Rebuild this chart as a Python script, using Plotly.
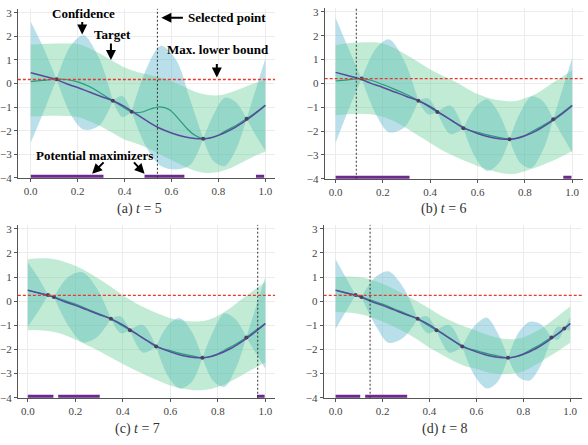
import plotly.graph_objects as go

# ---------------- data ----------------
grid_x = [0.0, 0.05, 0.1, 0.15, 0.2, 0.25, 0.3, 0.35, 0.4, 0.45, 0.5,
          0.55, 0.6, 0.65, 0.7, 0.75, 0.8, 0.85, 0.9, 0.95, 1.0]

target_y = [0.46, 0.33, 0.2, 0.0, -0.17, -0.36, -0.55, -0.73, -0.98, -1.3, -1.62,
            -1.9, -2.1, -2.25, -2.33, -2.33, -2.2, -1.98, -1.68, -1.33, -0.93]

# panel (a) t=5
a_obs_x = [0.11, 0.35, 0.43, 0.735, 0.92]
a_obs_y = [0.18, -0.73, -1.2, -2.34, -1.5]
a_mean_x = [0, 0.05, 0.11, 0.15, 0.2, 0.25, 0.3, 0.35, 0.39, 0.43, 0.47, 0.51, 0.55,
            0.59, 0.63, 0.67, 0.7, 0.735, 0.78, 0.83, 0.88, 0.92, 0.96, 1.0]
a_mean_y = [0.08, 0.13, 0.18, 0.17, 0.07, -0.13, -0.42, -0.73, -0.98, -1.2, -1.22, -1.08,
            -0.99, -1.1, -1.5, -1.95, -2.2, -2.34, -2.28, -2.02, -1.75, -1.5, -1.22, -0.92]
a_gp_up = [1.65, 1.68, 1.7, 1.7, 1.68, 1.5, 1.24, 0.95, 0.68, 0.5, 0.38,
           0.25, 0.1, -0.12, -0.35, -0.48, -0.5, -0.38, -0.2, 0.0, 0.15]
a_gp_lo = [-1.4, -1.38, -1.37, -1.38, -1.42, -1.6, -1.82, -2.1, -2.38, -2.55, -2.75,
           -3.0, -3.25, -3.5, -3.7, -3.8, -3.75, -3.6, -3.35, -3.1, -2.9]
a_lip_x = [0, 0.055, 0.11, 0.17, 0.225, 0.29, 0.35, 0.39, 0.43, 0.49, 0.555, 0.62, 0.68,
           0.735, 0.78, 0.8275, 0.875, 0.92, 0.96, 1.0]
a_lip_up = [2.62, 1.5, 0.18, 1.6, 2.05, 1.1, -0.73, -0.52, -1.2, 0.55, 1.6, 1.0, -0.7,
            -2.34, -1.3, -0.6, -0.8, -1.5, -0.22, 1.05]
a_lip_lo = [-2.51, -1.2, 0.18, -1.3, -1.95, -1.8, -0.73, -1.42, -1.2, -2.65, -3.5, -3.65, -3.45,
            -2.34, -3.3, -3.5, -2.8, -1.5, -2.22, -2.85]
a_sel = 0.54
a_lb = 0.17
a_pm_lo = [0.0, 0.485, 0.96]
a_pm_hi = [0.31, 0.655, 0.995]

# panel (b) t=6
b_obs_x = [0.11, 0.35, 0.43, 0.54, 0.735, 0.92]
b_obs_y = [0.2, -0.73, -1.2, -1.88, -2.34, -1.5]
b_mean_x = [0, 0.05, 0.11, 0.15, 0.2, 0.25, 0.3, 0.35, 0.39, 0.43, 0.49, 0.54, 0.6, 0.65,
            0.7, 0.735, 0.78, 0.83, 0.88, 0.92, 0.96, 1.0]
b_mean_y = [0.1, 0.15, 0.2, 0.13, -0.05, -0.25, -0.47, -0.72, -0.96, -1.2, -1.55, -1.88,
            -2.05, -2.18, -2.28, -2.34, -2.28, -2.02, -1.75, -1.5, -1.22, -0.92]
b_gp_up = [1.6, 1.68, 1.71, 1.72, 1.67, 1.47, 1.19, 0.9, 0.58, 0.33, 0.1,
           -0.18, -0.45, -0.62, -0.72, -0.75, -0.62, -0.42, -0.1, 0.22, 0.55]
b_gp_lo = [-1.34, -1.3, -1.27, -1.3, -1.4, -1.6, -1.88, -2.2, -2.5, -2.8, -3.05,
           -3.27, -3.46, -3.63, -3.76, -3.8, -3.68, -3.52, -3.32, -3.1, -2.84]
b_lip_x = [0, 0.055, 0.11, 0.17, 0.225, 0.29, 0.35, 0.39, 0.43, 0.485, 0.54, 0.59, 0.64,
           0.69, 0.735, 0.78, 0.8275, 0.875, 0.92, 0.96, 1.0]
b_lip_up = [2.75, 1.45, 0.2, 1.45, 1.85, 0.95, -0.73, -0.62, -1.2, -0.93, -1.88, -1.0, -0.67,
            -1.25, -2.34, -1.23, -0.55, -0.73, -1.5, -0.22, 1.06]
b_lip_lo = [-2.5, -1.1, 0.2, -1.3, -2.05, -1.85, -0.73, -1.3, -1.2, -2.13, -1.88, -3.1, -3.67,
            -3.35, -2.34, -3.33, -3.55, -2.83, -1.5, -2.22, -2.9]
b_sel = 0.0875
b_lb = 0.2
b_pm_lo = [0.0, 0.9625]
b_pm_hi = [0.3125, 0.997]

# panel (c) t=7
c_obs_x = [0.085, 0.11, 0.35, 0.43, 0.54, 0.735, 0.92]
c_obs_y = [0.26, 0.18, -0.73, -1.2, -1.88, -2.34, -1.5]
c_mean_x = [0, 0.04, 0.085, 0.11, 0.15, 0.2, 0.25, 0.3, 0.35, 0.39, 0.43, 0.49, 0.54, 0.6,
            0.65, 0.7, 0.735, 0.78, 0.83, 0.88, 0.92, 0.96, 1.0]
c_mean_y = [0.45, 0.36, 0.26, 0.18, 0.05, -0.12, -0.32, -0.52, -0.73, -0.97, -1.2, -1.55,
            -1.88, -2.05, -2.18, -2.28, -2.34, -2.28, -2.02, -1.75, -1.5, -1.2, -0.92]
c_gp_up = [1.74, 1.78, 1.76, 1.65, 1.47, 1.22, 0.92, 0.6, 0.25, -0.05, -0.3,
           -0.52, -0.7, -0.8, -0.84, -0.8, -0.6, -0.3, 0.08, 0.45, 0.8]
c_gp_lo = [-1.2, -1.2, -1.25, -1.38, -1.59, -1.82, -2.06, -2.33, -2.6, -2.85, -3.08,
           -3.3, -3.49, -3.62, -3.69, -3.67, -3.55, -3.35, -3.08, -2.8, -2.54]
c_lip_x = [0, 0.0425, 0.085, 0.0975, 0.11, 0.17, 0.23, 0.29, 0.35, 0.39, 0.43, 0.485, 0.54,
           0.59, 0.64, 0.69, 0.735, 0.78, 0.8275, 0.875, 0.92, 0.96, 1.0]
c_lip_up = [1.62, 1.0, 0.26, 0.3, 0.18, 1.0, 1.2, 0.55, -0.73, -0.62, -1.2, -0.98, -1.88,
            -1.0, -0.7, -1.25, -2.34, -1.25, -0.5, -0.75, -1.5, -0.25, 1.0]
c_lip_lo = [-1.05, -0.45, 0.26, 0.15, 0.18, -1.0, -1.7, -1.5, -0.73, -1.32, -1.2, -2.13, -1.88,
            -3.1, -3.62, -3.35, -2.34, -3.3, -3.55, -2.8, -1.5, -2.15, -2.8]
c_sel = 0.968
c_lb = 0.245
c_pm_lo = [0.0, 0.128, 0.965]
c_pm_hi = [0.108, 0.303, 0.997]

# panel (d) t=8
d_obs_x = [0.085, 0.11, 0.35, 0.43, 0.54, 0.735, 0.92, 0.975]
d_obs_y = [0.26, 0.18, -0.73, -1.2, -1.88, -2.34, -1.5, -1.13]
d_mean_x = [0, 0.04, 0.085, 0.11, 0.15, 0.2, 0.25, 0.3, 0.35, 0.39, 0.43, 0.49, 0.54, 0.6,
            0.65, 0.7, 0.735, 0.78, 0.83, 0.88, 0.92, 0.95, 0.975, 1.0]
d_mean_y = [0.45, 0.36, 0.26, 0.18, 0.05, -0.12, -0.32, -0.52, -0.73, -0.97, -1.2, -1.55,
            -1.88, -2.05, -2.18, -2.28, -2.34, -2.28, -2.02, -1.75, -1.5, -1.33, -1.13, -0.92]
d_gp_up = [1.0, 1.03, 1.0, 0.9, 0.72, 0.5, 0.25, -0.02, -0.3, -0.6, -0.85,
           -1.05, -1.22, -1.4, -1.53, -1.58, -1.5, -1.28, -0.97, -0.6, -0.22]
d_gp_lo = [-0.45, -0.47, -0.53, -0.65, -0.84, -1.06, -1.31, -1.6, -1.93, -2.2, -2.47,
           -2.68, -2.8, -2.95, -3.02, -3.0, -2.9, -2.65, -2.35, -2.05, -1.72]
d_lip_x = [0, 0.0425, 0.085, 0.0975, 0.11, 0.17, 0.225, 0.29, 0.35, 0.39, 0.43, 0.485, 0.54,
           0.59, 0.645, 0.69, 0.735, 0.78, 0.8275, 0.875, 0.92, 0.9475, 0.975, 1.0]
d_lip_up = [1.74, 1.0, 0.26, 0.3, 0.18, 1.0, 1.24, 0.55, -0.73, -0.62, -1.2, -0.98, -1.88,
            -1.05, -0.68, -1.3, -2.34, -1.3, -0.85, -0.95, -1.5, -1.05, -1.13, -0.65]
d_lip_lo = [-1.15, -0.45, 0.26, 0.15, 0.18, -1.0, -1.72, -1.5, -0.73, -1.32, -1.2, -2.13, -1.88,
            -3.05, -3.62, -3.35, -2.34, -3.15, -3.28, -2.65, -1.5, -1.6, -1.13, -1.22]
d_sel = 0.147
d_lb = 0.245
d_pm_lo = [0.0, 0.126]
d_pm_hi = [0.105, 0.305]

panel_titles = ["(a) <i>t</i> = 5", "(b) <i>t</i> = 6", "(c) <i>t</i> = 7", "(d) <i>t</i> = 8"]
y_ticks = [-4, -3, -2, -1, 0, 1, 2, 3]

# ---------------- styling / layout ----------------
W, H = 588, 445
FONT = "Liberation Serif, Times New Roman, DejaVu Serif, serif"
BLUE_FILL = "rgba(99,186,208,0.45)"
GREEN_FILL = "rgba(85,200,140,0.36)"
MEAN_COLOR = "#2a9a7c"
TARGET_COLOR = "#5a4a9c"
BAR_COLOR = "#6c2a8e"
RED = "rgb(235,55,45)"

# px geometry: left, right, x(0), x(1), y(3), y(-4)
geoms = [
    (12, 272, 25, 262, 11, 179),
    (322, 583, 333, 572, 10, 180),
    (12, 272, 22, 262, 231, 403),
    (321, 582, 333, 570, 231, 403),
]
title_pos = [(135, 211), (443, 211), (133, 435), (444, 435)]

panels = [
    (a_obs_x, a_obs_y, a_mean_x, a_mean_y, a_gp_up, a_gp_lo, a_lip_x, a_lip_up, a_lip_lo,
     a_sel, a_lb, a_pm_lo, a_pm_hi),
    (b_obs_x, b_obs_y, b_mean_x, b_mean_y, b_gp_up, b_gp_lo, b_lip_x, b_lip_up, b_lip_lo,
     b_sel, b_lb, b_pm_lo, b_pm_hi),
    (c_obs_x, c_obs_y, c_mean_x, c_mean_y, c_gp_up, c_gp_lo, c_lip_x, c_lip_up, c_lip_lo,
     c_sel, c_lb, c_pm_lo, c_pm_hi),
    (d_obs_x, d_obs_y, d_mean_x, d_mean_y, d_gp_up, d_gp_lo, d_lip_x, d_lip_up, d_lip_lo,
     d_sel, d_lb, d_pm_lo, d_pm_hi),
]

fig = go.Figure()
shapes = []
annotations = []
layout_axes = {}

for i, (p, g) in enumerate(zip(panels, geoms)):
    (ox, oy, mx, my, gu, gl, lx, lu, ll, sel, lb, pml, pmh) = p
    left, right, x0, x1, y3, yb = g
    sfx = "" if i == 0 else str(i + 1)
    xa, ya = "x" + sfx, "y" + sfx
    xs = x1 - x0
    ys = (yb - y3) / 7.0
    top_px = y3 - 4
    xr = [(left - x0) / xs, (right - x0) / xs]
    layout_axes["xaxis" + sfx] = dict(
        domain=[left / W, right / W], anchor=ya, range=xr,
        tickmode="array", tickvals=[0, 0.2, 0.4, 0.6, 0.8, 1.0],
        ticktext=["0.0", "0.2", "0.4", "0.6", "0.8", "1.0"],
        showgrid=True, gridcolor="#ececec", gridwidth=1, zeroline=False,
        showline=True, linecolor="#555", linewidth=1,
        ticks="outside", ticklen=3, tickcolor="#555",
        tickfont=dict(family=FONT, size=11, color="#444"),
    )
    layout_axes["yaxis" + sfx] = dict(
        domain=[1 - yb / H, 1 - top_px / H], anchor=xa,
        range=[-4, 3 + (y3 - top_px) / ys],
        tickmode="array", tickvals=y_ticks,
        ticktext=[("\u2212" + str(-v)) if v < 0 else str(v) for v in y_ticks],
        showgrid=True, gridcolor="#ececec", gridwidth=1, zeroline=False,
        showline=True, linecolor="#555", linewidth=1,
        ticks="outside", ticklen=3, tickcolor="#555",
        tickfont=dict(family=FONT, size=11, color="#444"),
    )

    # blue band, drawn segment by segment between pinch points
    pinch = [k for k in range(len(lx)) if abs(lu[k] - ll[k]) < 1e-9]
    cuts = sorted(set([0] + pinch + [len(lx) - 1]))
    for s, e in zip(cuts[:-1], cuts[1:]):
        if e - s < 1:
            continue
        sx = lx[s:e + 1]
        fig.add_trace(go.Scatter(x=sx, y=ll[s:e + 1], mode="lines",
                                 line=dict(width=0, shape="spline", smoothing=0.9),
                                 hoverinfo="skip", showlegend=False, xaxis=xa, yaxis=ya))
        fig.add_trace(go.Scatter(x=sx, y=lu[s:e + 1], mode="lines", fill="tonexty",
                                 fillcolor=BLUE_FILL,
                                 line=dict(width=0, shape="spline", smoothing=0.9),
                                 hoverinfo="skip", showlegend=False, xaxis=xa, yaxis=ya))

    # green band
    fig.add_trace(go.Scatter(x=grid_x, y=gl, mode="lines",
                             line=dict(width=0, shape="spline"),
                             hoverinfo="skip", showlegend=False, xaxis=xa, yaxis=ya))
    fig.add_trace(go.Scatter(x=grid_x, y=gu, mode="lines", fill="tonexty",
                             fillcolor=GREEN_FILL, line=dict(width=0, shape="spline"),
                             hoverinfo="skip", showlegend=False, xaxis=xa, yaxis=ya))

    # mean and target
    fig.add_trace(go.Scatter(x=mx, y=my, mode="lines",
                             line=dict(color=MEAN_COLOR, width=1.2, shape="spline"),
                             showlegend=False, xaxis=xa, yaxis=ya))
    fig.add_trace(go.Scatter(x=grid_x, y=target_y, mode="lines",
                             line=dict(color=TARGET_COLOR, width=1.5, shape="spline"),
                             showlegend=False, xaxis=xa, yaxis=ya))
    fig.add_trace(go.Scatter(x=ox, y=oy, mode="markers",
                             marker=dict(color="#4a4060", size=4),
                             showlegend=False, xaxis=xa, yaxis=ya))

    # potential maximizers
    bx, by = [], []
    for lo_, hi_ in zip(pml, pmh):
        bx += [lo_, hi_, None]
        by += [-4, -4, None]
    fig.add_trace(go.Scatter(x=bx, y=by, mode="lines",
                             line=dict(color=BAR_COLOR, width=6),
                             showlegend=False, xaxis=xa, yaxis=ya))

    # max lower bound (horizontal) and selected point (vertical)
    fig.add_trace(go.Scatter(x=xr, y=[lb, lb], mode="lines",
                             line=dict(color=RED, width=1.3, dash="3px,2px"),
                             hoverinfo="skip", showlegend=False, xaxis=xa, yaxis=ya))
    shapes.append(dict(type="line", xref=xa, x0=sel, x1=sel, yref=ya + " domain", y0=0, y1=1,
                       line=dict(color="#333", width=1, dash="2px,2px")))

    tx, ty = title_pos[i]
    annotations.append(dict(xref="paper", yref="paper", x=tx / W, y=1 - ty / H,
                            text=panel_titles[i], showarrow=False,
                            font=dict(family=FONT, size=14, color="#333"),
                            xanchor="center", yanchor="middle"))

# labels with arrows in panel (a)
label_font = dict(family=FONT, size=13, color="black")
labels = [("<b>Confidence</b>", 78, 12), ("<b>Target</b>", 108, 33),
          ("<b>Selected point</b>", 223, 16), ("<b>Max. lower bound</b>", 214, 48),
          ("<b>Potential maximizers</b>", 89, 156)]
for t, px, py in labels:
    annotations.append(dict(xref="paper", yref="paper", x=px / W, y=1 - py / H, text=t,
                            showarrow=False, font=label_font,
                            xanchor="center", yanchor="middle"))
arrows = [(77, 33, 0, -14), (106, 59, 0, -18), (157, 16, 23, 0), (213, 77, 0, -15),
          (87, 175, 13, -13), (140, 175, -12, -13)]
for px, py, ax, ay in arrows:
    annotations.append(dict(xref="paper", yref="paper", x=px / W, y=1 - py / H, text="",
                            showarrow=True, arrowhead=2, arrowsize=1, arrowwidth=2,
                            arrowcolor="black", ax=ax, ay=ay))

fig.update_layout(
    width=W, height=H, margin=dict(l=0, r=0, t=0, b=0),
    paper_bgcolor="white", plot_bgcolor="white",
    shapes=shapes, annotations=annotations, showlegend=False,
    font=dict(family=FONT),
    **layout_axes,
)

fig.write_html("out.html")
